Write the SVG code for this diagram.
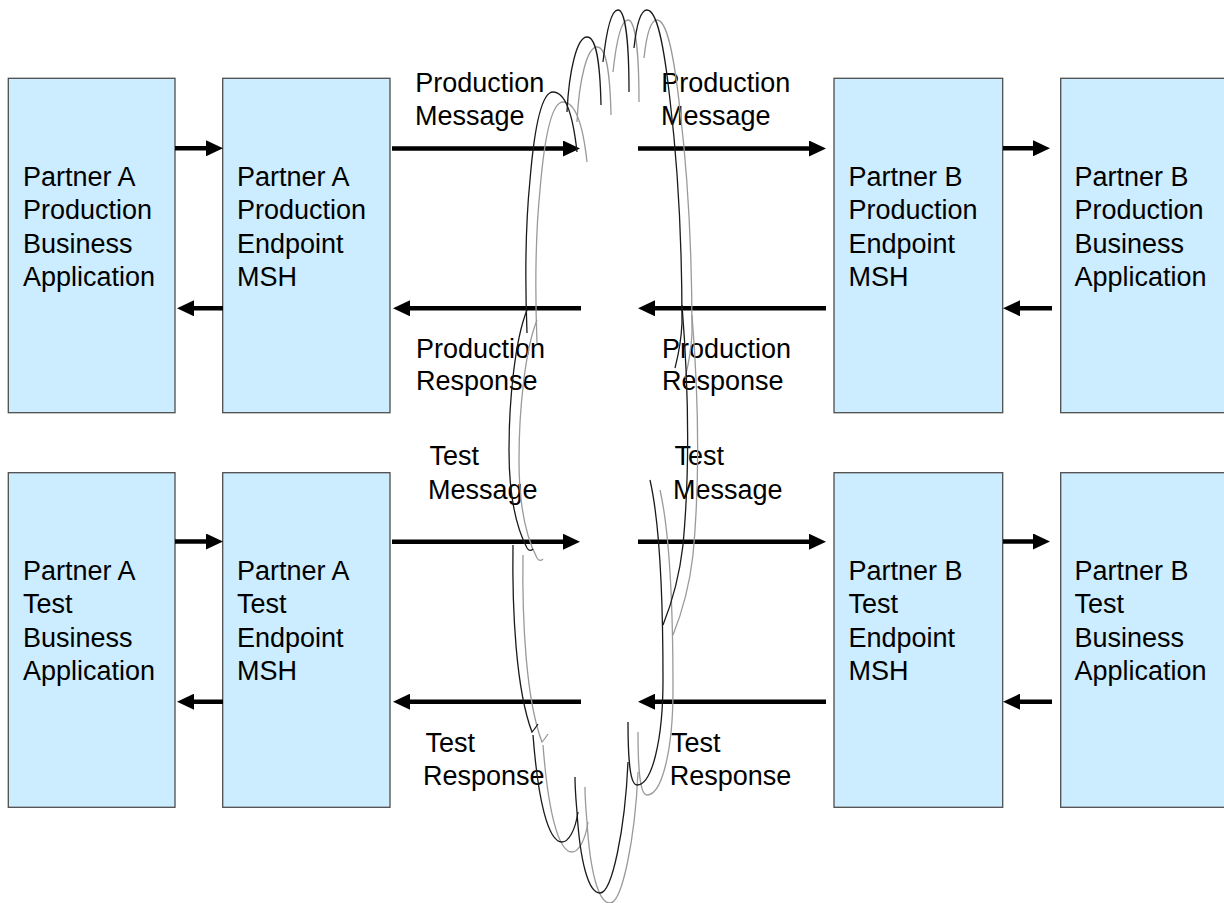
<svg xmlns="http://www.w3.org/2000/svg" xmlns:xlink="http://www.w3.org/1999/xlink" width="1224" height="903" viewBox="0 0 1224 903">
<style>
.box{fill:#CCECFF;stroke:#4D4D4D;stroke-width:1.3}
.t{font-family:"Liberation Sans",Arial,sans-serif;font-size:27px;fill:#000}
.arr{stroke:#000;stroke-width:4.5;fill:none;marker-end:url(#ah)}
.cl{fill:none;stroke-width:1.3}
</style>
<defs>
<marker id="ah" markerUnits="userSpaceOnUse" markerWidth="17" markerHeight="16" refX="9" refY="8" orient="auto">
<path d="M0,0 L17,8 L0,16 z" fill="#000"/>
</marker>
<g id="cloud">
<path d="M527,333 C525,280 526,220 530,180 C535,120 543,92 553,92 C565,92 573,115 577,152"/>
<path d="M567,112 C569,70 577,37 587,37 C596,37 600,60 601,105"/>
<path d="M603,62 C607,25 612,10 618,10 C625,10 629,40 629,92"/>
<path d="M634,48 C637,20 642,10 647,10 C657,10 664,45 670,100 C676,150 682,230 682,323 C681,345 678,356 675,368"/>
<path d="M682,305 C688,380 690,470 683,545 C679,580 671,605 663,625"/>
<path d="M650,480 C658,515 663,580 663,680 C663,740 652,785 637,785 C630,785 628,760 628,722"/>
<path d="M628,762 C625,830 612,893 600,893 C588,893 580,860 577,812 C576,800 575,790 575,777"/>
<path d="M578,812 C575,832 568,842 562,842 C548,842 538,800 533,735"/>
<path d="M513,545 C512,610 516,690 532,732 C534,730 536,727 538,724"/>
<path d="M527,310 C515,340 509,400 509,450 C509,490 515,525 527,548 C529,551 531,551 533,549"/>
</g>
</defs>
<rect width="1224" height="903" fill="#fff"/>

<g id="nodeA-prod-app"><rect class="box" x="8.3" y="78.3" width="166.7" height="334.4"/>
<text class="t"><tspan x="23" y="186">Partner A</tspan><tspan x="23" y="219.3">Production</tspan><tspan x="23" y="252.7">Business</tspan><tspan x="23" y="286">Application</tspan></text></g>
<g id="nodeA-prod-msh"><rect class="box" x="222.7" y="78.3" width="167.3" height="334.4"/>
<text class="t"><tspan x="237" y="186">Partner A</tspan><tspan x="237" y="219.3">Production</tspan><tspan x="237" y="252.7">Endpoint</tspan><tspan x="237" y="286">MSH</tspan></text></g>
<g id="nodeB-prod-msh"><rect class="box" x="834" y="78.3" width="168.7" height="334.4"/>
<text class="t"><tspan x="848.5" y="186">Partner B</tspan><tspan x="848.5" y="219.3">Production</tspan><tspan x="848.5" y="252.7">Endpoint</tspan><tspan x="848.5" y="286">MSH</tspan></text></g>
<g id="nodeB-prod-app"><rect class="box" x="1060.7" y="78.3" width="170" height="334.4"/>
<text class="t"><tspan x="1074.5" y="186">Partner B</tspan><tspan x="1074.5" y="219.3">Production</tspan><tspan x="1074.5" y="252.7">Business</tspan><tspan x="1074.5" y="286">Application</tspan></text></g>

<g id="nodeA-test-app"><rect class="box" x="8.3" y="472.7" width="166.7" height="334.6"/>
<text class="t"><tspan x="23" y="580">Partner A</tspan><tspan x="23" y="613.3">Test</tspan><tspan x="23" y="646.7">Business</tspan><tspan x="23" y="680">Application</tspan></text></g>
<g id="nodeA-test-msh"><rect class="box" x="222.7" y="472.7" width="167.3" height="334.6"/>
<text class="t"><tspan x="237" y="580">Partner A</tspan><tspan x="237" y="613.3">Test</tspan><tspan x="237" y="646.7">Endpoint</tspan><tspan x="237" y="680">MSH</tspan></text></g>
<g id="nodeB-test-msh"><rect class="box" x="834" y="472.7" width="168.7" height="334.6"/>
<text class="t"><tspan x="848.5" y="580">Partner B</tspan><tspan x="848.5" y="613.3">Test</tspan><tspan x="848.5" y="646.7">Endpoint</tspan><tspan x="848.5" y="680">MSH</tspan></text></g>
<g id="nodeB-test-app"><rect class="box" x="1060.7" y="472.7" width="170" height="334.6"/>
<text class="t"><tspan x="1074.5" y="580">Partner B</tspan><tspan x="1074.5" y="613.3">Test</tspan><tspan x="1074.5" y="646.7">Business</tspan><tspan x="1074.5" y="680">Application</tspan></text></g>

<g id="connectors">
<line class="arr" x1="175" y1="148.3" x2="215" y2="148.3"/>
<line class="arr" x1="223" y1="308.3" x2="185" y2="308.3"/>
<line class="arr" x1="1003" y1="148.3" x2="1042" y2="148.3"/>
<line class="arr" x1="1052" y1="308.3" x2="1011" y2="308.3"/>
<line class="arr" x1="175" y1="541.5" x2="215" y2="541.5"/>
<line class="arr" x1="223" y1="701.7" x2="185" y2="701.7"/>
<line class="arr" x1="1003" y1="541.5" x2="1042" y2="541.5"/>
<line class="arr" x1="1052" y1="701.7" x2="1011" y2="701.7"/>

<line class="arr" x1="392" y1="148.5" x2="572" y2="148.5"/>
<line class="arr" x1="638" y1="148.5" x2="818" y2="148.5"/>
<line class="arr" x1="581" y1="308.3" x2="401" y2="308.3"/>
<line class="arr" x1="826" y1="308.3" x2="646" y2="308.3"/>
<line class="arr" x1="392" y1="541.7" x2="572" y2="541.7"/>
<line class="arr" x1="638" y1="541.7" x2="818" y2="541.7"/>
<line class="arr" x1="581" y1="701.7" x2="401" y2="701.7"/>
<line class="arr" x1="826" y1="701.7" x2="646" y2="701.7"/>

<text class="t"><tspan x="415.3" y="91.7">Production</tspan><tspan x="415" y="125">Message</tspan></text>
<text class="t"><tspan x="661.3" y="91.7">Production</tspan><tspan x="661" y="125">Message</tspan></text>
<text class="t"><tspan x="416" y="358.3">Production</tspan><tspan x="416" y="390">Response</tspan></text>
<text class="t"><tspan x="662" y="358.3">Production</tspan><tspan x="662" y="390">Response</tspan></text>
<text class="t"><tspan x="429.5" y="465">Test</tspan><tspan x="428" y="499.3">Message</tspan></text>
<text class="t"><tspan x="674.5" y="465">Test</tspan><tspan x="673" y="499.3">Message</tspan></text>
<text class="t"><tspan x="425.5" y="751.7">Test</tspan><tspan x="423" y="785">Response</tspan></text>
<text class="t"><tspan x="671" y="751.7">Test</tspan><tspan x="669.7" y="785">Response</tspan></text>
</g>

<g id="cloud-shape">
<use xlink:href="#cloud" href="#cloud" class="cl" stroke="#9A9A9A" transform="translate(10,10)"/>
<use xlink:href="#cloud" href="#cloud" class="cl" stroke="#1A1A1A"/>
</g>
</svg>
